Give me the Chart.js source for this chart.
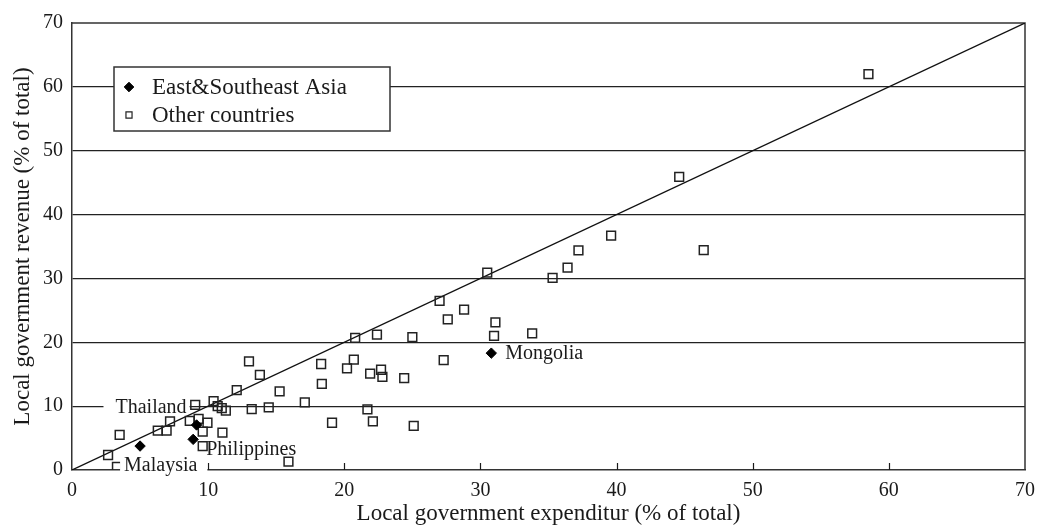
<!DOCTYPE html>
<html>
<head>
<meta charset="utf-8">
<script src="https://cdn.jsdelivr.net/npm/chart.js@4.4.1/dist/chart.umd.min.js"></script>
<style>
  html, body { margin: 0; padding: 0; background: #ffffff; }
  #wrap { width: 1044px; height: 528px; }
</style>
</head>
<body>
<div id="wrap"><canvas id="chart" width="1044" height="528"></canvas></div>
<script>
// Axis range and tick values (% of total)
const axisTicks = [0, 10, 20, 30, 40, 50, 60, 70];

// East & Southeast Asia economies
const asiaNames = ['Malaysia', 'Philippines', 'Thailand', 'Mongolia'];
const asiaExpenditure = [5.0, 8.9, 9.15, 30.8];
const asiaRevenue = [3.75, 4.8, 7.05, 18.3];

// Other countries
const otherExpenditure = [2.65, 3.3, 3.5, 6.3, 6.95, 7.2, 8.65, 9.05, 9.3, 9.6,
  9.6, 9.95, 10.4, 10.7, 11.0, 11.3, 11.05, 12.1, 13.0, 13.2,
  13.8, 14.45, 15.25, 15.9, 17.1, 18.3, 18.35, 19.1, 20.2, 20.7,
  20.8, 21.7, 21.9, 22.1, 22.4, 22.7, 22.8, 24.4, 25.0, 25.1,
  27.0, 27.3, 27.6, 28.8, 30.5, 31.0, 31.1, 33.8, 35.3, 36.4,
  37.2, 39.6, 44.6, 46.4, 58.5];
const otherRevenue = [2.35, 0.5, 5.5, 6.15, 6.15, 7.6, 7.7, 10.2, 8.0, 6.0,
  3.75, 7.4, 10.8, 10.0, 9.7, 9.3, 5.85, 12.5, 17.0, 9.55,
  14.9, 9.8, 12.3, 1.3, 10.6, 16.6, 13.5, 7.4, 15.9, 17.3,
  20.7, 9.5, 15.1, 7.6, 21.2, 15.7, 14.6, 14.4, 20.8, 6.9,
  26.5, 17.2, 23.6, 25.1, 30.9, 21.0, 23.1, 21.4, 30.1, 31.7,
  34.4, 36.7, 45.9, 34.45, 62.0];

// Revenue = expenditure reference line
const parityEnds = [0, 70];

const seriesNames = ['East&Southeast Asia', 'Other countries'];

const SERIF = "'Liberation Serif', 'DejaVu Serif', serif";
const INK = '#1a1a1a';

const toPoints = (xs, ys) => xs.map((x, i) => ({ x: x, y: ys[i] }));

// Where each country name sits relative to its marker; a box hides what lies under the name
const labelStyle = {
  Thailand:    { dx: -10, dy: -18, align: 'right', box: [12, 3, 10, 7] },
  Malaysia:    { dx: -16, dy: 19,  align: 'left',  box: [4, 10, 11, 11] },
  Philippines: { dx: 13,  dy: 9,   align: 'left',  box: null },
  Mongolia:    { dx: 14,  dy: 0,   align: 'left',  box: null }
};

// Plot frame plus inward tick marks along the bottom axis
const framePlugin = {
  id: 'frame',
  beforeDatasetsDraw(chart) {
    const { ctx, chartArea: a, scales } = chart;
    ctx.save();
    ctx.strokeStyle = '#333333';
    ctx.lineWidth = 1.5;
    ctx.beginPath();
    ctx.moveTo(a.left, a.top);
    ctx.lineTo(a.right, a.top);
    ctx.lineTo(a.right, a.bottom);
    ctx.stroke();
    ctx.lineWidth = 1.2;
    ctx.strokeStyle = INK;
    ctx.beginPath();
    axisTicks.slice(1, -1).forEach(v => {
      const px = Math.round(scales.x.getPixelForValue(v)) + 0.5;
      ctx.moveTo(px, a.bottom);
      ctx.lineTo(px, a.bottom - 7);
    });
    ctx.stroke();
    ctx.restore();
  }
};

// Country names next to their markers
const countryLabelPlugin = {
  id: 'countryLabels',
  afterDatasetsDraw(chart) {
    const { ctx, scales } = chart;
    ctx.save();
    ctx.font = '20px ' + SERIF;
    ctx.textBaseline = 'middle';
    asiaNames.forEach((name, i) => {
      const s = labelStyle[name];
      const px = scales.x.getPixelForValue(asiaExpenditure[i]) + s.dx;
      const py = scales.y.getPixelForValue(asiaRevenue[i]) + s.dy;
      const w = ctx.measureText(name).width;
      const left = s.align === 'right' ? px - w : px;
      if (s.box) {
        const [pl, pr, pt, pb] = s.box;
        ctx.fillStyle = '#ffffff';
        ctx.fillRect(left - pl, py - pt, w + pl + pr, pt + pb);
      }
      ctx.fillStyle = INK;
      ctx.textAlign = 'left';
      ctx.fillText(name, left, py + 1);
    });
    ctx.restore();
  }
};

// Boxed legend inside the upper-left of the plot
const legendBoxPlugin = {
  id: 'legendBox',
  afterDatasetsDraw(chart) {
    const { ctx, chartArea: a } = chart;
    const left = a.left + 42, top = a.top + 44, w = 276, h = 64;
    ctx.save();
    ctx.fillStyle = '#ffffff';
    ctx.fillRect(left, top, w, h);
    ctx.strokeStyle = '#333333';
    ctx.lineWidth = 1.5;
    ctx.strokeRect(left, top, w, h);
    const rows = [top + 20, top + 48];
    const sets = chart.data.datasets;
    rows.forEach((y, i) => {
      const ds = sets[i];
      ctx.fillStyle = ds.backgroundColor;
      ctx.strokeStyle = ds.borderColor;
      ctx.lineWidth = i === 0 ? 1 : 1.2;
      Chart.helpers.drawPoint(ctx, {
        pointStyle: ds.pointStyle,
        radius: i === 0 ? 4.8 : 4.3,
        borderWidth: ctx.lineWidth,
        rotation: 0
      }, left + 15, y);
      ctx.fillStyle = INK;
      ctx.font = '23px ' + SERIF;
      ctx.textAlign = 'left';
      ctx.textBaseline = 'middle';
      ctx.fillText(seriesNames[i], left + 38, y + 1);
    });
    ctx.restore();
  }
};

new Chart(document.getElementById('chart'), {
  type: 'scatter',
  data: {
    datasets: [
      {
        label: seriesNames[0],
        data: toPoints(asiaExpenditure, asiaRevenue),
        pointStyle: 'rectRot',
        pointRadius: 5.2,
        pointHoverRadius: 5.2,
        backgroundColor: '#000000',
        borderColor: '#000000',
        borderWidth: 1,
        order: 1
      },
      {
        label: seriesNames[1],
        data: toPoints(otherExpenditure, otherRevenue),
        pointStyle: 'rect',
        pointRadius: 6.2,
        pointHoverRadius: 6.2,
        backgroundColor: 'rgba(255,255,255,0)',
        borderColor: '#222222',
        borderWidth: 1.5,
        order: 2
      },
      {
        label: 'parity',
        type: 'line',
        data: toPoints(parityEnds, parityEnds),
        borderColor: '#111111',
        borderWidth: 1.3,
        pointRadius: 0,
        fill: false,
        order: 3
      }
    ]
  },
  options: {
    responsive: false,
    animation: false,
    devicePixelRatio: 1,
    layout: { padding: { top: 23, right: 13, left: 0, bottom: 0 } },
    plugins: {
      legend: { display: false },
      tooltip: { enabled: false }
    },
    scales: {
      x: {
        type: 'linear',
        min: axisTicks[0],
        max: axisTicks[axisTicks.length - 1],
        afterBuildTicks: s => { s.ticks = axisTicks.map(v => ({ value: v })); },
        afterFit: s => { s.height = 58; },
        grid: { display: false, drawTicks: false },
        border: { display: true, color: '#333333', width: 1.5 },
        ticks: { color: INK, font: { family: SERIF, size: 20 }, padding: 9, maxRotation: 0 },
        title: {
          display: true,
          text: 'Local government expenditur (% of total)',
          color: INK,
          font: { family: SERIF, size: 23 },
          padding: { top: 0, bottom: 0 }
        }
      },
      y: {
        type: 'linear',
        min: axisTicks[0],
        max: axisTicks[axisTicks.length - 1],
        afterBuildTicks: s => { s.ticks = axisTicks.map(v => ({ value: v })); },
        afterFit: s => { s.width = 72; },
        grid: {
          drawTicks: false,
          color: c => (c.tick && (c.tick.value === 0 || c.tick.value === 70)) ? 'rgba(0,0,0,0)' : '#222222',
          lineWidth: 1.2
        },
        border: { display: true, color: '#333333', width: 1.5 },
        ticks: { color: INK, font: { family: SERIF, size: 20 }, padding: 9 },
        title: {
          display: true,
          text: 'Local government revenue (% of total)',
          color: INK,
          font: { family: SERIF, size: 23 },
          padding: { top: 9, bottom: 0 }
        }
      }
    }
  },
  plugins: [framePlugin, countryLabelPlugin, legendBoxPlugin]
});
</script>
</body>
</html>
